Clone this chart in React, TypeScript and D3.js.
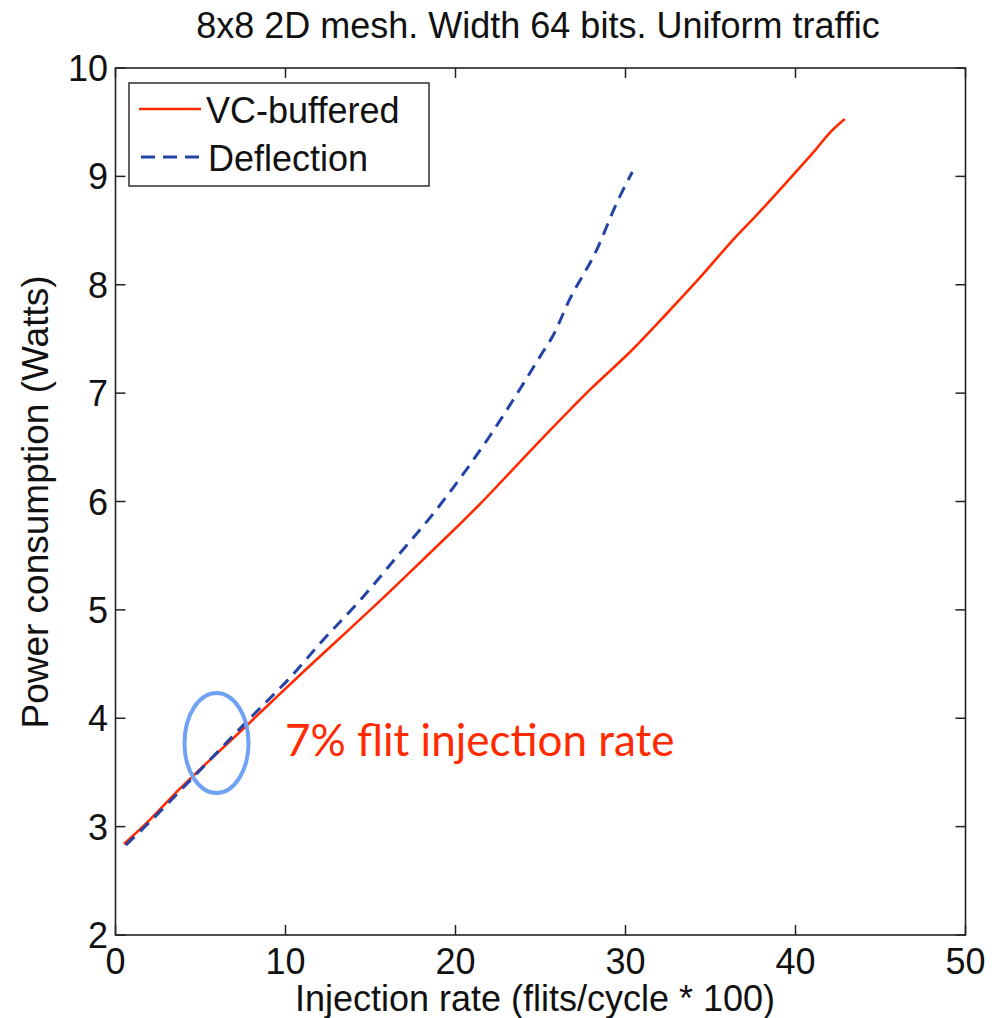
import React from 'react';
import * as d3 from 'd3';

// values
const vcRate = [0.5, 2, 3.6, 6, 7.7, 9.5, 11.4, 13.2, 15.6, 18, 21.4, 24.6, 27.9, 30.4, 32.4, 34.4, 36.3, 37.7, 39.1, 40.3, 41.2, 42.0, 42.9];
const vcPower = [2.84, 3.06, 3.32, 3.68, 3.93, 4.2, 4.48, 4.74, 5.09, 5.45, 5.97, 6.5, 7.03, 7.4, 7.73, 8.07, 8.41, 8.64, 8.88, 9.09, 9.25, 9.4, 9.53];
const deflRate = [0.6, 1.8, 4.6, 8.1, 10.3, 12.2, 14.4, 16.5, 18.6, 20.3, 22.0, 24.0, 25.1, 25.7, 26.7, 28.3, 29.5, 30.4];
const deflPower = [2.83, 3.01, 3.46, 4.03, 4.38, 4.72, 5.09, 5.48, 5.87, 6.22, 6.6, 7.09, 7.37, 7.52, 7.86, 8.32, 8.76, 9.04];

const xTicks = [0, 10, 20, 30, 40, 50];
const yTicks = [2, 3, 4, 5, 6, 7, 8, 9, 10];
const seriesNames = ['VC-buffered', 'Deflection'];

const RED = '#ff2a00';
const BLUE = '#2343a6';
const FONT = '"Liberation Sans", Arial, Helvetica, sans-serif';

export default function App() {
  const left = 115.5, right = 965.5, top = 68, bottom = 935;
  const x = d3.scaleLinear().domain([0, 50]).range([left, right]);
  const y = d3.scaleLinear().domain([2, 10]).range([bottom, top]);

  const line = d3.line<[number, number]>()
    .x(d => x(d[0]))
    .y(d => y(d[1]))
    .curve(d3.curveMonotoneX);

  const vc = vcRate.map((r, i) => [r, vcPower[i]] as [number, number]);
  const defl = deflRate.map((r, i) => [r, deflPower[i]] as [number, number]);

  const tickLen = 10;

  return (
    <svg width={1000} height={1018} style={{ position: 'absolute', left: 0, top: 0, background: '#fff' }}>
      <rect x={0} y={0} width={1000} height={1018} fill="#fff" />
      <text x={538} y={38} textAnchor="middle" fontFamily={FONT} fontSize={36} fill="#111">
        8x8 2D mesh. Width 64 bits. Uniform traffic
      </text>

      {/* ticks on all four sides */}
      {xTicks.map(t => (
        <g key={'xt' + t}>
          <line x1={x(t)} x2={x(t)} y1={bottom} y2={bottom - tickLen} stroke="#222" strokeWidth={1.5} />
          <line x1={x(t)} x2={x(t)} y1={top} y2={top + tickLen} stroke="#222" strokeWidth={1.5} />
          <text x={x(t)} y={974} textAnchor="middle" fontFamily={FONT} fontSize={36} fill="#111">{t}</text>
        </g>
      ))}
      {yTicks.map(t => (
        <g key={'yt' + t}>
          <line x1={left} x2={left + tickLen} y1={y(t)} y2={y(t)} stroke="#222" strokeWidth={1.5} />
          <line x1={right} x2={right - tickLen} y1={y(t)} y2={y(t)} stroke="#222" strokeWidth={1.5} />
          <text x={108} y={y(t) + 13} textAnchor="end" fontFamily={FONT} fontSize={36} fill="#111">{t}</text>
        </g>
      ))}

      <path d={line(vc) || ''} fill="none" stroke={RED} strokeWidth={2.6} strokeLinejoin="round" />
      <path d={line(defl) || ''} fill="none" stroke={BLUE} strokeWidth={3} strokeDasharray="12,8" />

      <rect x={left} y={top} width={right - left} height={bottom - top} fill="none" stroke="#222" strokeWidth={1.6} />

      {/* legend */}
      <rect x={129} y={83} width={300} height={103} fill="#fff" stroke="#222" strokeWidth={1.4} />
      <line x1={139} x2={201} y1={109} y2={109} stroke={RED} strokeWidth={2.6} />
      <text x={206} y={123} fontFamily={FONT} fontSize={36} fill="#111">{seriesNames[0]}</text>
      <line x1={141} x2={199} y1={157} y2={157} stroke={BLUE} strokeWidth={3} strokeDasharray="14,8" />
      <text x={208} y={171} fontFamily={FONT} fontSize={36} fill="#111">{seriesNames[1]}</text>

      {/* annotation */}
      <ellipse cx={216.5} cy={743} rx={32} ry={50} fill="none" stroke="#6fa1f5" strokeWidth={4} />
      <text x={285} y={756} fontFamily='"Lato", "Open Sans", sans-serif' fontSize={44} fill={RED}>
        7% flit injection rate
      </text>

      <text x={535} y={1011} textAnchor="middle" fontFamily={FONT} fontSize={36} fill="#111">
        Injection rate (flits/cycle * 100)
      </text>
      <text transform="translate(48,502) rotate(-90)" textAnchor="middle" fontFamily={FONT} fontSize={37} fill="#111">
        Power consumption (Watts)
      </text>
    </svg>
  );
}
